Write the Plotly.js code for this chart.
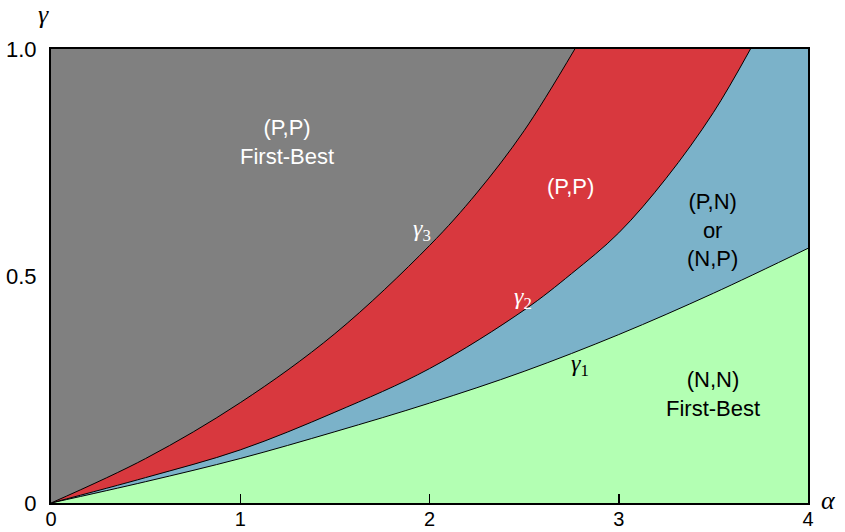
<!DOCTYPE html>
<html>
<head>
<meta charset="utf-8">
<script src="https://cdn.plot.ly/plotly-3.0.1.min.js"></script>
<style>html,body{margin:0;padding:0;background:#fff;}#chart{width:845px;height:532px;}</style>
</head>
<body>
<div id="chart"></div>
<script>
// gamma_1 boundary: (N,N) below, (P,N)/(N,P) above
const alpha1 = [0, 0.5, 1, 1.5, 2, 2.5, 3, 3.5, 4];
const gamma1 = [0, 0.047, 0.098, 0.157, 0.22, 0.29, 0.371, 0.462, 0.561];
// gamma_2 boundary
const alpha2 = [0, 0.5, 1, 1.5, 2, 2.5, 2.75, 3, 3.25, 3.5, 3.696];
const gamma2 = [0, 0.056, 0.117, 0.20, 0.296, 0.425, 0.505, 0.595, 0.715, 0.86, 1.0];
// gamma_3 boundary
const alpha3 = [0, 0.5, 1, 1.5, 2, 2.25, 2.5, 2.768];
const gamma3 = [0, 0.098, 0.221, 0.373, 0.567, 0.683, 0.82, 1.0];

const xTickVals = [0, 1, 2, 3, 4];
const xTickText = ["0", "1", "2", "3", "4"];
const yTickVals = [0, 0.5, 1];
const yTickText = ["0", "0.5", "1.0"];

const colGreen = "#b3ffb3";
const colBlue = "#7bb2c9";
const colRed = "#d8383e";
const colGray = "#808080";

const lineStyle = {color: "#000", width: 1, shape: "spline", smoothing: 1};

const traces = [
  {x: alpha1, y: gamma1, type: "scatter", mode: "lines", fill: "tozeroy", fillcolor: colGreen, line: lineStyle, hoverinfo: "skip"},
  {x: alpha2, y: gamma2, type: "scatter", mode: "lines", fill: "tozerox", fillcolor: colRed, line: lineStyle, hoverinfo: "skip"},
  {x: alpha3, y: gamma3, type: "scatter", mode: "lines", fill: "tozerox", fillcolor: colGray, line: lineStyle, hoverinfo: "skip"}
];

const sans = "Liberation Sans, Arial, sans-serif";
const serif = "Liberation Serif, DejaVu Serif, serif";

function regionLabel(x, y, text, color) {
  return {x: x, y: y, xref: "x", yref: "y", text: text, showarrow: false,
    font: {family: sans, size: 22, color: color}, align: "center"};
}
function gammaLabel(x, y, text, color) {
  return {x: x, y: y, xref: "x", yref: "y", text: text, showarrow: false,
    font: {family: serif, size: 24, color: color}};
}

const layout = {
  width: 845, height: 532,
  margin: {l: 51, r: 37, t: 49, b: 29, pad: 0},
  paper_bgcolor: "#fff",
  plot_bgcolor: colBlue,
  showlegend: false,
  xaxis: {
    range: [0, 4], tickvals: xTickVals, ticktext: xTickText,
    ticks: "inside", ticklen: 9, tickwidth: 1.5, tickcolor: "#000",
    showline: true, linecolor: "#000", linewidth: 2, mirror: true,
    showgrid: false, zeroline: false, automargin: false,
    ticklabelstandoff: -3,
    tickfont: {family: sans, size: 20, color: "#000"}
  },
  yaxis: {
    range: [0, 1], tickvals: yTickVals, ticktext: yTickText,
    ticks: "", showline: true, linecolor: "#000", linewidth: 2, mirror: true,
    showgrid: false, zeroline: false, automargin: false,
    ticklabelstandoff: 8,
    tickfont: {family: sans, size: 22, color: "#000"}
  },
  annotations: [
    regionLabel(1.247, 0.795, "(P,P)<br>First-Best", "#fff"),
    regionLabel(2.747, 0.698, "(P,P)", "#fff"),
    regionLabel(3.497, 0.601, "(P,N)<br>or<br>(N,P)", "#000"),
    regionLabel(3.497, 0.24, "(N,N)<br>First-Best", "#000"),
    gammaLabel(1.96, 0.601, "<i>γ</i><sub>3</sub>", "#fff"),
    gammaLabel(2.494, 0.452, "<i>γ</i><sub>2</sub>", "#fff"),
    gammaLabel(2.794, 0.304, "<i>γ</i><sub>1</sub>", "#000"),
    {x: -0.02, y: 1.112, xref: "paper", yref: "paper", text: "<i>γ</i>", showarrow: false,
      font: {family: serif, size: 26, color: "#000"}},
    {x: 1.04, y: -0.03, xref: "paper", yref: "paper", text: "<i>α</i>", showarrow: false,
      font: {family: serif, size: 26, color: "#000"}}
  ]
};

Plotly.newPlot("chart", traces, layout, {displayModeBar: false, staticPlot: true});
</script>
</body>
</html>
